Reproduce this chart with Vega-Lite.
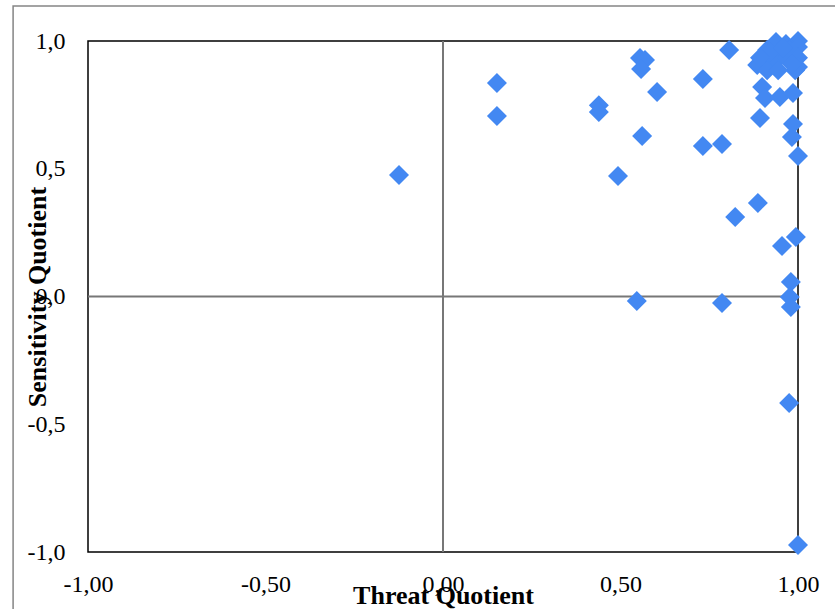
{
  "$schema": "https://vega.github.io/schema/vega-lite/v6.json",
  "width": 710,
  "height": 511,
  "autosize": {"type": "none"},
  "padding": {"left": 88, "top": 41, "right": 37, "bottom": 57},
  "background": "white",
  "config": {
    "view": {"stroke": "#000000", "strokeWidth": 1.5},
    "axis": {"labelFont": "Liberation Serif", "titleFont": "Liberation Serif", "labelColor": "#000000", "titleColor": "#000000"}
  },
  "datasets": {
    "points": [
      {"threat": -0.124, "sensitivity": 0.476},
      {"threat": 0.152, "sensitivity": 0.836},
      {"threat": 0.152, "sensitivity": 0.706},
      {"threat": 0.439, "sensitivity": 0.749},
      {"threat": 0.439, "sensitivity": 0.722},
      {"threat": 0.493, "sensitivity": 0.472},
      {"threat": 0.555, "sensitivity": 0.933},
      {"threat": 0.569, "sensitivity": 0.926},
      {"threat": 0.558, "sensitivity": 0.890},
      {"threat": 0.603, "sensitivity": 0.800},
      {"threat": 0.561, "sensitivity": 0.628},
      {"threat": 0.546, "sensitivity": -0.018},
      {"threat": 0.732, "sensitivity": 0.851},
      {"threat": 0.732, "sensitivity": 0.589},
      {"threat": 0.786, "sensitivity": 0.597},
      {"threat": 0.786, "sensitivity": -0.025},
      {"threat": 0.806, "sensitivity": 0.965},
      {"threat": 0.823, "sensitivity": 0.311},
      {"threat": 0.887, "sensitivity": 0.366},
      {"threat": 0.893, "sensitivity": 0.699},
      {"threat": 0.955, "sensitivity": 0.198},
      {"threat": 0.994, "sensitivity": 0.233},
      {"threat": 0.980, "sensitivity": 0.057},
      {"threat": 0.977, "sensitivity": -0.002},
      {"threat": 0.980, "sensitivity": -0.041},
      {"threat": 0.975, "sensitivity": -0.417},
      {"threat": 1.0, "sensitivity": -0.973},
      {"threat": 0.983, "sensitivity": 0.624},
      {"threat": 0.986, "sensitivity": 0.675},
      {"threat": 1.0, "sensitivity": 0.550},
      {"threat": 0.899, "sensitivity": 0.820},
      {"threat": 0.907, "sensitivity": 0.777},
      {"threat": 0.949, "sensitivity": 0.781},
      {"threat": 0.986, "sensitivity": 0.796},
      {"threat": 0.938, "sensitivity": 0.996},
      {"threat": 1.0, "sensitivity": 1.0},
      {"threat": 0.966, "sensitivity": 0.988},
      {"threat": 0.913, "sensitivity": 0.965},
      {"threat": 0.977, "sensitivity": 0.965},
      {"threat": 1.0, "sensitivity": 0.977},
      {"threat": 0.949, "sensitivity": 0.945},
      {"threat": 0.885, "sensitivity": 0.906},
      {"threat": 0.907, "sensitivity": 0.926},
      {"threat": 0.935, "sensitivity": 0.918},
      {"threat": 0.969, "sensitivity": 0.934},
      {"threat": 1.0, "sensitivity": 0.934},
      {"threat": 0.913, "sensitivity": 0.886},
      {"threat": 0.944, "sensitivity": 0.886},
      {"threat": 0.992, "sensitivity": 0.886},
      {"threat": 1.0, "sensitivity": 0.898},
      {"threat": 0.921, "sensitivity": 0.957},
      {"threat": 0.958, "sensitivity": 0.973},
      {"threat": 0.983, "sensitivity": 0.910},
      {"threat": 0.893, "sensitivity": 0.934}
    ]
  },
  "layer": [
    {
      "data": {"values": [{"x1": -1.211, "x2": 1.25, "y1": -1.4, "y2": 1.137}]},
      "mark": {"type": "rect", "fill": null, "fillOpacity": 0, "stroke": "#858585", "strokeWidth": 1.5, "clip": false},
      "encoding": {
        "x": {"field": "x1", "type": "quantitative"},
        "x2": {"field": "x2"},
        "y": {"field": "y1", "type": "quantitative"},
        "y2": {"field": "y2"}
      }
    },
    {
      "data": {"values": [{"zero": 0}]},
      "mark": {"type": "rule", "color": "#777777", "strokeWidth": 2},
      "encoding": {"x": {"field": "zero", "type": "quantitative"}}
    },
    {
      "data": {"values": [{"zero": 0}]},
      "mark": {"type": "rule", "color": "#777777", "strokeWidth": 2},
      "encoding": {"y": {"field": "zero", "type": "quantitative"}}
    },
    {
      "data": {"name": "points"},
      "mark": {"type": "point", "shape": "diamond", "filled": true, "size": 400, "color": "#4388F2", "opacity": 1},
      "encoding": {
        "x": {
          "field": "threat",
          "type": "quantitative",
          "scale": {"domain": [-1, 1], "nice": false, "zero": false},
          "axis": {
            "title": "Threat Quotient",
            "values": [-1, -0.5, 0, 0.5, 1],
            "labelExpr": "replace(replace(format(datum.value, '.2f'), '.', ','), '\u2212', '-')",
            "domain": false,
            "ticks": false,
            "grid": false,
            "labelFontSize": 24,
            "labelPadding": 20,
            "labelFlush": false,
            "labelOverlap": false,
            "titleFontSize": 26,
            "titleFontWeight": "bold",
            "titleX": 355,
            "titleY": 51,
            "titleBaseline": "alphabetic",
            "titleAlign": "center",
            "zindex": 1
          }
        },
        "y": {
          "field": "sensitivity",
          "type": "quantitative",
          "scale": {"domain": [-1, 1], "nice": false, "zero": false},
          "axis": {
            "title": "Sensitivity Quotient",
            "values": [-1, -0.5, 0, 0.5, 1],
            "labelExpr": "replace(replace(format(datum.value, '.1f'), '.', ','), '\u2212', '-')",
            "domain": false,
            "ticks": false,
            "grid": false,
            "labelFontSize": 24,
            "labelPadding": 23,
            "labelFlush": false,
            "labelOverlap": false,
            "titleFontSize": 26,
            "titleFontWeight": "bold",
            "titleAngle": -90,
            "titleX": -43,
            "titleY": 255.5,
            "titleBaseline": "alphabetic",
            "titleAlign": "center",
            "zindex": 1
          }
        }
      }
    }
  ]
}
